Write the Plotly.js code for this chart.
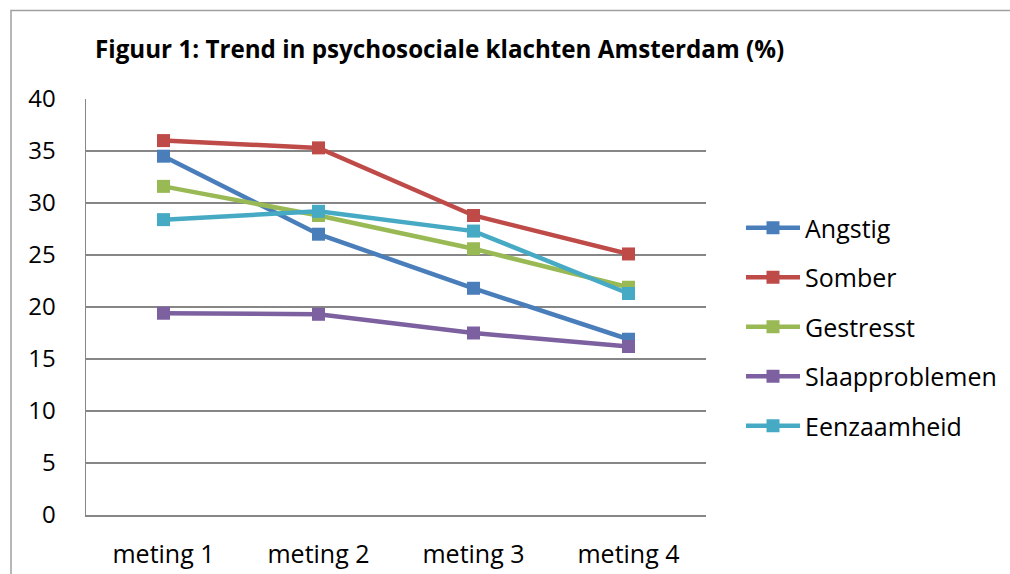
<!DOCTYPE html>
<html>
<head>
<meta charset="utf-8">
<script src="https://cdn.plot.ly/plotly-3.0.1.min.js"></script>
<style>
  html, body { margin: 0; padding: 0; background: #ffffff; }
  #chart { width: 1010px; height: 574px; }
</style>
</head>
<body>
<div id="chart"></div>
<script>
// ---- data ----
var categories = ['meting 1', 'meting 2', 'meting 3', 'meting 4'];
var seriesNames = ['Angstig', 'Somber', 'Gestresst', 'Slaapproblemen', 'Eenzaamheid'];
var angstig = [34.5, 27.0, 21.8, 16.9];
var somber = [36.0, 35.3, 28.8, 25.1];
var gestresst = [31.6, 28.8, 25.6, 21.9];
var slaapproblemen = [19.4, 19.3, 17.5, 16.2];
var eenzaamheid = [28.4, 29.2, 27.3, 21.3];
var yTicks = [0, 5, 10, 15, 20, 25, 30, 35, 40];
var titleText = 'Figuur 1: Trend in psychosociale klachten Amsterdam (%)';

var seriesValues = [angstig, somber, gestresst, slaapproblemen, eenzaamheid];
var colors = ['#4A7EBB', '#BE4B48', '#98B954', '#7D60A0', '#46AAC5'];

var FONT = '"Open Sans", Lato, sans-serif';

var traces = seriesNames.map(function (name, i) {
  return {
    type: 'scatter',
    mode: 'lines+markers',
    name: name,
    legendgroup: 'g' + i,
    x: categories,
    y: seriesValues[i],
    line: { color: colors[i], width: 4.5 },
    marker: { symbol: 'square', size: 13, color: colors[i] },
    cliponaxis: false
  };
});

var L = 86, R = 706, T = 99, B = 515, W = 1010, H = 574;
function px(x) { return (x - L) / (R - L); }
function py(y) { return (B - y) / (B - T); }

var layout = {
  width: W,
  height: H,
  margin: { l: L, r: W - R, t: T, b: H - B, pad: 0, autoexpand: false },
  paper_bgcolor: '#ffffff',
  plot_bgcolor: '#ffffff',
  font: { family: FONT, size: 24, color: '#000000' },
  showlegend: true,
  title: {
    text: '<b>' + titleText + '</b>',
    font: { family: FONT, size: 24.2, color: '#000000' },
    xref: 'container', yref: 'container',
    x: 95 / W, xanchor: 'left',
    y: 1 - 50 / H, yanchor: 'middle'
  },
  xaxis: {
    type: 'category',
    range: [-0.5, 3.5],
    showgrid: false,
    zeroline: false,
    showline: true,
    linecolor: '#868686',
    linewidth: 1.5,
    ticks: '',
    ticklabelstandoff: 16,
    tickfont: { family: FONT, size: 25, color: '#000000' },
    automargin: false,
    fixedrange: true
  },
  yaxis: {
    range: [0, 40],
    tickvals: yTicks,
    ticktext: yTicks.map(String),
    showgrid: true,
    gridcolor: '#868686',
    gridwidth: 1.3,
    zeroline: false,
    showline: true,
    linecolor: '#868686',
    linewidth: 1.5,
    ticks: '',
    ticklabelstandoff: 24,
    tickfont: { family: FONT, size: 24, color: '#000000' },
    automargin: false,
    fixedrange: true
  },
  legend: {
    xref: 'container', yref: 'container',
    x: 741 / W, xanchor: 'left',
    y: 1 - 327 / H, yanchor: 'middle',
    traceorder: 'grouped',
    tracegroupgap: 14,
    itemwidth: 54,
    font: { family: FONT, size: 25, color: '#000000' },
    bgcolor: 'rgba(0,0,0,0)',
    borderwidth: 0
  },
  shapes: [
    {
      type: 'rect', xref: 'paper', yref: 'paper',
      x0: px(11), x1: px(1030), y0: py(600), y1: py(10.5),
      line: { color: '#A0A0A0', width: 1.5 },
      fillcolor: 'rgba(0,0,0,0)',
      layer: 'below'
    }
  ]
};

Plotly.newPlot('chart', traces, layout, { displayModeBar: false, staticPlot: true });
</script>
</body>
</html>
